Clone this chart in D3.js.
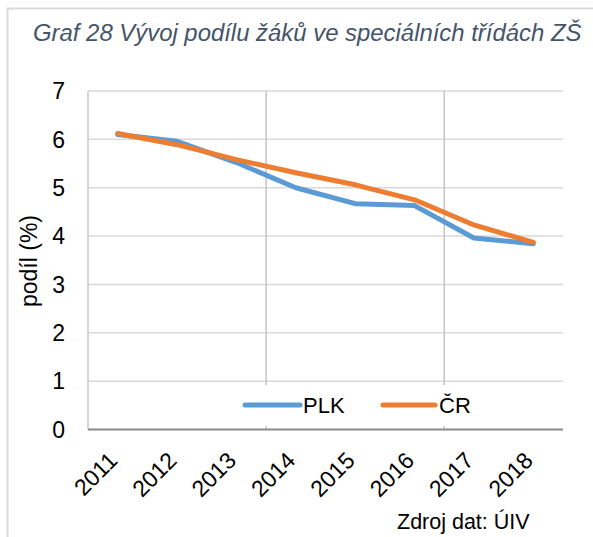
<!DOCTYPE html>
<html><head><meta charset="utf-8">
<script src="https://cdn.jsdelivr.net/npm/d3@7"></script>
<style>body{margin:0;background:#fff}svg{display:block;font-family:"Liberation Sans",Arial,sans-serif}</style>
</head><body><svg id="c" width="593" height="537"></svg>
<script>
const years = ["2011","2012","2013","2014","2015","2016","2017","2018"];
const plk = [6.10, 5.96, 5.52, 5.00, 4.67, 4.63, 3.96, 3.84];
const cr  = [6.12, 5.89, 5.58, 5.31, 5.06, 4.75, 4.23, 3.87];
const yTicks = [0,1,2,3,4,5,6,7];
const seriesNames = ["PLK","ČR"];
const colors = ["#5B9BD5","#ED7D31"];
const title = "Graf 28 Vývoj podílu žáků ve speciálních třídách ZŠ";
const yTitle = "podíl (%)";
const source = "Zdroj dat: ÚIV";

const svg = d3.select("#c");
const L=88, R=563, T=91, B=429.5;
const x = d3.scaleBand().domain(years).range([L,R]).padding(0);
const y = d3.scaleLinear().domain([0,7]).range([B,T]);
const cx = d => x(d)+x.bandwidth()/2;

// frame
svg.append("path").attr("d","M7.5,537V8.5H593").attr("fill","none").attr("stroke","#d9d9d9").attr("stroke-width",2);

// title
svg.append("text").attr("x",33).attr("y",41).attr("font-size",23.9).attr("font-style","italic")
  .attr("fill","#44546A").text(title);

// horizontal gridlines
svg.append("g").selectAll("line").data(yTicks.filter(v=>v>0)).join("line")
  .attr("x1",L).attr("x2",R).attr("y1",d=>y(d)).attr("y2",d=>y(d))
  .attr("stroke","#d9d9d9").attr("stroke-width",1.5);
// vertical gridlines every 3 categories
svg.append("g").selectAll("line").data([years[3],years[6]]).join("line")
  .attr("x1",d=>x(d)).attr("x2",d=>x(d)).attr("y1",T).attr("y2",B)
  .attr("stroke","#c4c4c4").attr("stroke-width",1.5);

// axes lines
svg.append("line").attr("x1",L).attr("x2",L).attr("y1",T).attr("y2",B).attr("stroke","#c8c8c8").attr("stroke-width",1.5);
svg.append("line").attr("x1",L).attr("x2",R).attr("y1",B).attr("y2",B).attr("stroke","#8a8a8a").attr("stroke-width",2);

// y tick labels
svg.append("g").selectAll("text").data(yTicks).join("text")
  .attr("x",65).attr("y",d=>y(d)).attr("dy","0.36em").attr("text-anchor","end")
  .attr("font-size",23).attr("fill","#000").text(d=>d);
// y title
svg.append("text").attr("transform","translate(37,261) rotate(-90)").attr("text-anchor","middle")
  .attr("font-size",23).attr("fill","#000").text(yTitle);

// x tick labels
svg.append("g").selectAll("text").data(years).join("text")
  .attr("transform",d=>`translate(${cx(d)+1},462) rotate(-45)`).attr("text-anchor","end")
  .attr("font-size",23).attr("fill","#000").text(d=>d);

// legend background
svg.append("rect").attr("x",238).attr("y",385).attr("width",245).attr("height",41).attr("fill","#fff");

// lines
const line = d3.line().x((d,i)=>cx(years[i])).y(d=>y(d));
[plk,cr].forEach((s,k)=>{
  svg.append("path").datum(s).attr("d",line).attr("fill","none").attr("stroke",colors[k])
    .attr("stroke-width",5).attr("stroke-linejoin","round").attr("stroke-linecap","round");
});

// legend
const lg = [{x1:245,x2:300,tx:303},{x1:383,x2:435,tx:439}];
lg.forEach((p,k)=>{
  svg.append("line").attr("x1",p.x1).attr("x2",p.x2).attr("y1",405).attr("y2",405)
    .attr("stroke",colors[k]).attr("stroke-width",5).attr("stroke-linecap","round");
  svg.append("text").attr("x",p.tx).attr("y",413).attr("font-size",22).attr("fill","#000").text(seriesNames[k]);
});

// source
svg.append("text").attr("x",397).attr("y",529).attr("font-size",21.5).attr("fill","#000").text(source);
</script></body></html>
